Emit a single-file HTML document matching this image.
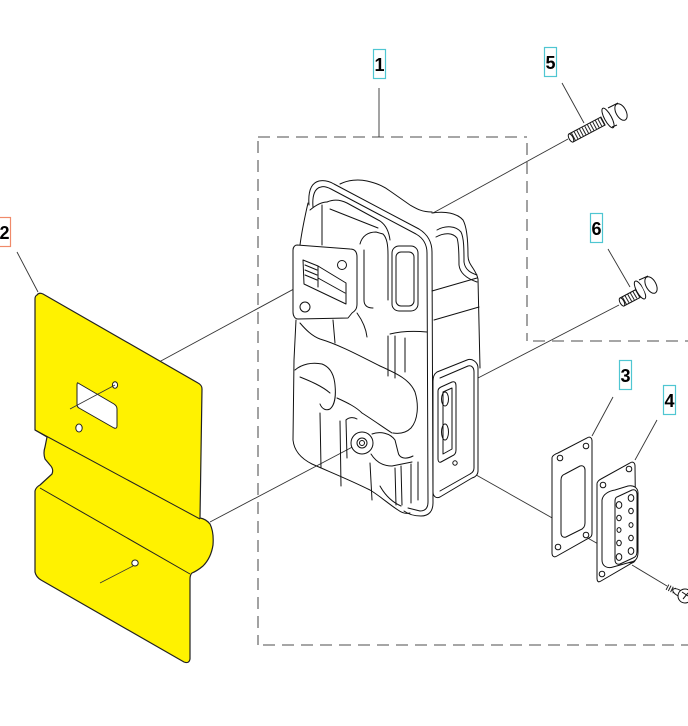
<!DOCTYPE html>
<html><head><meta charset="utf-8"><style>
html,body{margin:0;padding:0;background:#fff;}
svg{display:block;}
text{font-family:"Liberation Sans",Arial,sans-serif;font-weight:bold;font-size:18px;fill:#000;}
</style></head><body>
<svg width="688" height="726" viewBox="0 0 688 726" xmlns="http://www.w3.org/2000/svg">
<rect width="688" height="726" fill="#fff"/>

<!-- dashed group box -->
<g stroke="#707070" stroke-width="1.3" fill="none" stroke-dasharray="12,7">
  <path d="M258,137 H527"/>
  <path d="M258,141 V645"/>
  <path d="M263,645 H688"/>
  <path d="M527,143 V341"/>
  <path d="M533,341 H688"/>
</g>

<!-- leader lines -->
<g stroke="#333" stroke-width="0.9" fill="none">
  <path d="M379,88 V137"/>
  <path d="M562,83 L584,123"/>
  <path d="M568,139 L433,213"/>
  <path d="M608,249 L630,287"/>
  <path d="M619,305 L478,378"/>
  <path d="M17,252 L38,292"/>
  <path d="M159,362 L340,264"/>
  <path d="M210,522 L360,443"/>
  <path d="M613,397 L592,436"/>
  <path d="M657,420 L635,460"/>
  <path d="M455,463 L600,545"/>
  <path d="M632,565 L667,586"/>
</g>

<!-- yellow heat shield (2) -->
<g stroke="#222" stroke-width="1.2" stroke-linejoin="round">
  <path fill="#fff200" d="M37,295 Q39,292 43,294 L198,383 Q202,385 202,389 L200,518 Q206,519 210,524 Q214,532 213,545 Q211,558 203,566 Q197,571 192,573 Q190,575 190,579 L190,659 Q189,664 184,662 L41,580 Q36,577 35,572 L35,491 Q36,487 40,485 L52,474 Q54,469 50,465 L45,459 Q43,453 45,447 L47,437 L35,430 L35,299 Q35,296 37,295 Z"/>
  <path fill="none" stroke-width="1" d="M35,430 L200,519"/>
  <path fill="none" stroke-width="1" d="M40,488 L190,574"/>
  <path fill="#fff" stroke-width="1" d="M78,383 L114,404 Q117,406 117,409 L117,426 Q117,429 114,428 L79,408 Q77,407 77,404 L77,386 Q77,382 78,383 Z"/>
  <ellipse cx="115" cy="385" rx="2.6" ry="3.2" fill="#fff" stroke-width="1"/>
  <ellipse cx="79" cy="428" rx="3.2" ry="4" fill="#fff" stroke-width="1"/>
  <ellipse cx="135" cy="563" rx="3.2" ry="3" fill="#fff" stroke-width="1"/>
</g>
<g stroke="#333" stroke-width="0.8" fill="none">
  <path d="M70,409 L115,385"/>
  <path d="M100,583 L133,566"/>
</g>

<!-- muffler (1) -->
<g stroke="#111" stroke-width="1" fill="none" stroke-linecap="round" stroke-linejoin="round">
  <!-- body top humps behind gasket -->
  <path d="M340,184 C348,180 358,179 367,181 C375,183 382,185 390,191 L410,205 C417,209 422,212 432,212"/>
  <path d="M327,202 C334,199 341,200 347,203 L380,221 C386,225 389,232 390,240"/>
  <path d="M330,209 L378,228"/>
  <path d="M310,210 C316,205 322,202 327,202"/>
  <!-- left silhouette top -->
  <path d="M308,203 C305,216 302,230 300,245"/>
  <path d="M322,205 L322,245"/>
  <!-- gasket (double line) -->
  <path d="M309,205 C308,192 311,183 319,181 C324,180 329,181 334,184 L419,229 C427,234 432,241 432,252 L433,503 C433,511 429,516 421,516 C414,516 408,514 404,511"/>
  <path d="M313,207 C312,195 315,188 321,187 C324,186 327,187 331,189 L416,234 C423,238 427,244 427,253 L428,502 C428,508 425,511 420,511 L408,508"/>
  <!-- right body half -->
  <path d="M432,213 C445,211 457,213 463,220 C467,227 468,240 468,256 C468,265 476,269 478,279 L480,368"/>
  <path d="M437,230 C446,225 456,226 461,232 C464,238 464,250 464,262 C465,270 471,273 477,275"/>
  <path d="M436,237 C445,232 453,233 457,238 C459,244 459,256 459,265 C460,274 468,279 477,282"/>
  <path d="M432,291 L477,278"/>
  <path d="M434,320 L479,307"/>
  <!-- middle groove panel -->
  <rect x="392" y="246" width="26" height="65" rx="7"/>
  <rect x="396" y="252" width="18" height="54" rx="5"/>
  <!-- bump between flange and panel -->
  <path d="M360,244 C362,236 368,232 376,232 L383,234 C387,238 388,245 388,255 L388,300"/>
  <path d="M364,250 L364,300 C364,306 368,308 373,308"/>
  <!-- lower groove -->
  <path d="M390,334 C402,331 415,331 427,332"/>
  <path d="M388,336 L388,376"/>
  <path d="M395,336 L395,378"/>
  <path d="M405,338 L405,372"/>
  <!-- under flange lines -->
  <path d="M333,320 L335,343"/>
  <path d="M357,313 C362,320 366,328 367,337"/>
  <!-- strap -->
  <path d="M300,323 C306,330 312,336 320,339 C340,345 360,356 380,366 C398,374 410,380 415,392 C419,405 418,420 411,428 C406,433 400,434 393,433"/>
  <path d="M295,370 C302,364 312,362 322,364 C330,367 334,374 335,385 C336,395 335,405 330,409 C326,411 322,409 320,404"/>
  <path d="M300,377 C310,381 322,386 330,393"/>
  <path d="M337,398 C348,403 356,407 362,413 C370,418 380,425 392,433"/>
  <!-- left silhouette lower -->
  <path d="M296,320 L294,360 L293,440 C294,450 300,458 312,464 C330,472 350,480 370,490 C380,496 390,505 398,510 C402,513 406,514 410,513"/>
  <path d="M320,413 L321,468"/>
  <path d="M340,421 L341,486"/>
  <path d="M346,420 L347,458"/>
  <!-- boss -->
  <path d="M346,420 C349,417 354,417 357,419"/>
  <circle cx="362" cy="443" r="11" fill="#fff"/>
  <circle cx="362" cy="443" r="5"/>
  <circle cx="362" cy="443" r="2.5"/>
  <path d="M372,434 C380,431 390,433 395,440 L398,452 C399,458 405,460 413,456"/>
  <path d="M371,454 C376,462 383,466 392,466 L412,462"/>
  <!-- lower vertical grooves -->
  <path d="M370,463 L372,500"/>
  <path d="M395,468 L396,505"/>
  <path d="M401,466 L402,505"/>
  <path d="M411,464 L411,503"/>
  <path d="M418,462 L418,500"/>
  <path d="M380,486 C385,495 392,502 401,506"/>
  <!-- inlet flange -->
  <path fill="#fff" d="M297,245 L350,249 C355,249 357,252 357,257 L357,304 C357,309 355,311 352,313 L348,318 L298,319 C295,319 293,316 293,312 L293,250 C293,247 295,245 297,245 Z"/>
  <path fill="#fff" d="M303,260 L318,266 L346,283 L346,304 L304,284 Z"/>
  <path d="M318,266 L318,287"/>
  <path d="M305,265 L317,270"/>
  <path d="M305,270 L317,275"/>
  <path d="M305,275 L317,280"/>
  <path d="M318,278 L345,293"/>
  <circle cx="342" cy="265" r="4.5" fill="#fff"/>
  <circle cx="305" cy="307" r="5" fill="#fff"/>
  <!-- outlet plate -->
  <path fill="#fff" d="M437,372 L467,360 C472,358 478,362 478,368 L478,471 C478,474 476,477 472,478 L440,497 C436,499 433,496 433,492 L433,381 C433,377 434,374 437,372 Z"/>
  <path d="M440,378 L468,366 C472,365 474,368 474,372 L474,468 C474,471 472,473 470,474 L440,491"/>
  <path d="M441,387 L452,382 C455,381 456,383 456,386 L456,450 C456,453 455,455 452,456 L441,462 C439,463 438,461 438,459 L438,391 C438,389 439,388 441,387 Z"/>
  <path d="M443,392 L452,388 L452,449 L443,454 Z"/>
  <ellipse cx="445" cy="399" rx="3.5" ry="7"/>
  <ellipse cx="445" cy="432" rx="3.5" ry="8"/>
  <circle cx="455" cy="463" r="2.2"/>
</g>

<!-- bolt 5 -->
<g stroke="#111" stroke-width="1" fill="#fff">
  <line x1="573" y1="137" x2="603" y2="121" stroke="#222" stroke-width="8" stroke-dasharray="1,2"/>
  <polygon points="568.9,134 600.9,117 605.1,125 573.1,142" fill="none"/>
  <ellipse cx="571" cy="138" rx="2" ry="4.5" transform="rotate(-28.4 571 138)"/>
  <ellipse cx="608" cy="118" rx="3.5" ry="11" transform="rotate(-28.4 608 118)"/>
  <path d="M608,108 L618,103 L627,120 L617,125 Z" stroke="none"/>
  <path d="M608,108 L618,103 M617,125 L612,127" fill="none"/>
  <ellipse cx="621" cy="112" rx="5" ry="9" transform="rotate(-28.4 621 112)"/>
</g>

<!-- bolt 6 -->
<g stroke="#111" stroke-width="1" fill="#fff">
  <line x1="624" y1="301" x2="638" y2="293" stroke="#222" stroke-width="8" stroke-dasharray="1,2"/>
  <polygon points="620,298 636,289.5 640,297.5 624,306" fill="none"/>
  <ellipse cx="622" cy="302" rx="2" ry="4.5" transform="rotate(-28.4 622 302)"/>
  <ellipse cx="640" cy="290" rx="3.5" ry="10" transform="rotate(-28.4 640 290)"/>
  <path d="M639,280 L648,276 L657,294 L648,298 Z" stroke="none"/>
  <path d="M639,280 L648,276" fill="none"/>
  <ellipse cx="651" cy="285" rx="5" ry="9" transform="rotate(-28.4 651 285)"/>
</g>

<!-- gasket 3 -->
<g stroke="#111" stroke-width="1" fill="#fff">
  <path d="M558,453 L587,438 C590,436 592,438 592,441 L592,533 C592,536 591,537 589,538 L557,556 C554,558 552,556 552,553 L552,458 C552,456 555,454 558,453 Z"/>
  <path d="M565,474 L580,466 C583,465 585,467 585,470 L585,523 C585,527 583,529 580,530 L566,537 C563,538 561,536 561,533 L561,480 C561,477 562,475 565,474 Z"/>
  <circle cx="560" cy="458" r="2.8"/>
  <circle cx="586" cy="446" r="2.8"/>
  <circle cx="586" cy="535" r="2.8"/>
  <circle cx="558" cy="547" r="2.8"/>
</g>

<!-- part 4 -->
<g stroke="#111" stroke-width="1" fill="#fff">
  <path d="M601,479 L630,463 C633,461 635,463 635,466 L636,557 C636,560 635,562 632,563 L601,581 C598,583 597,581 597,578 L597,484 C597,482 599,480 601,479 Z"/>
  <circle cx="603" cy="485" r="2.8"/>
  <circle cx="629" cy="469" r="2.8"/>
  <circle cx="630" cy="560" r="2.8"/>
  <circle cx="602" cy="574" r="2.8"/>
  <path d="M602,500 C603,494 609,491 615,490 L628,486 C634,485 638,488 638,493 L638,552 C638,558 636,561 631,562 L613,567 C607,569 602,566 602,560 Z"/>
  <path d="M617,497 L632,490 C635,489 637,491 637,494 L637,551 C637,555 636,557 633,558 L620,564 C617,565 615,563 615,560 L615,501 C615,499 616,497 617,497 Z"/>
  <ellipse cx="619" cy="505" rx="2.8" ry="3.4"/>
  <ellipse cx="631" cy="498" rx="2.8" ry="3.4"/>
  <ellipse cx="619" cy="518" rx="2.3" ry="2.8"/>
  <ellipse cx="631" cy="511" rx="2.3" ry="2.8"/>
  <ellipse cx="619" cy="530" rx="2" ry="2.4"/>
  <ellipse cx="631" cy="525" rx="2" ry="2.4"/>
  <ellipse cx="619" cy="543" rx="2.3" ry="2.8"/>
  <ellipse cx="631" cy="538" rx="2.3" ry="2.8"/>
  <ellipse cx="619" cy="557" rx="2.8" ry="3.4"/>
  <ellipse cx="631" cy="551" rx="2.8" ry="3.4"/>
</g>

<!-- small screw bottom right -->
<g stroke="#111" stroke-width="1" fill="#fff">
  <line x1="667" y1="587" x2="677" y2="592" stroke="#222" stroke-width="6" stroke-dasharray="1,1.5"/>
  <ellipse cx="679" cy="593" rx="3" ry="7" transform="rotate(-60 679 593)"/>
  <circle cx="685" cy="596" r="7"/>
  <path d="M682,592 L688,596 M683,599 L688,593" fill="none"/>
</g>

<!-- labels -->
<g fill="#fff" stroke-width="1.2">
  <rect x="373.5" y="49.5" width="12" height="29" stroke="#4fc6d2"/>
  <rect x="544.5" y="47.5" width="12" height="29" stroke="#4fc6d2"/>
  <rect x="590.5" y="213.5" width="12" height="29" stroke="#4fc6d2"/>
  <rect x="619.5" y="360.5" width="12" height="29" stroke="#4fc6d2"/>
  <rect x="663.5" y="385.5" width="12" height="29" stroke="#4fc6d2"/>
  <rect x="-1.5" y="217.5" width="12" height="29" stroke="#f08a6a"/>
</g>
<text x="379.5" y="71" text-anchor="middle">1</text>
<text x="550.5" y="69" text-anchor="middle">5</text>
<text x="596.5" y="235" text-anchor="middle">6</text>
<text x="625.5" y="382" text-anchor="middle">3</text>
<text x="669.5" y="407" text-anchor="middle">4</text>
<text x="4.5" y="239" text-anchor="middle">2</text>
</svg>
</body></html>
